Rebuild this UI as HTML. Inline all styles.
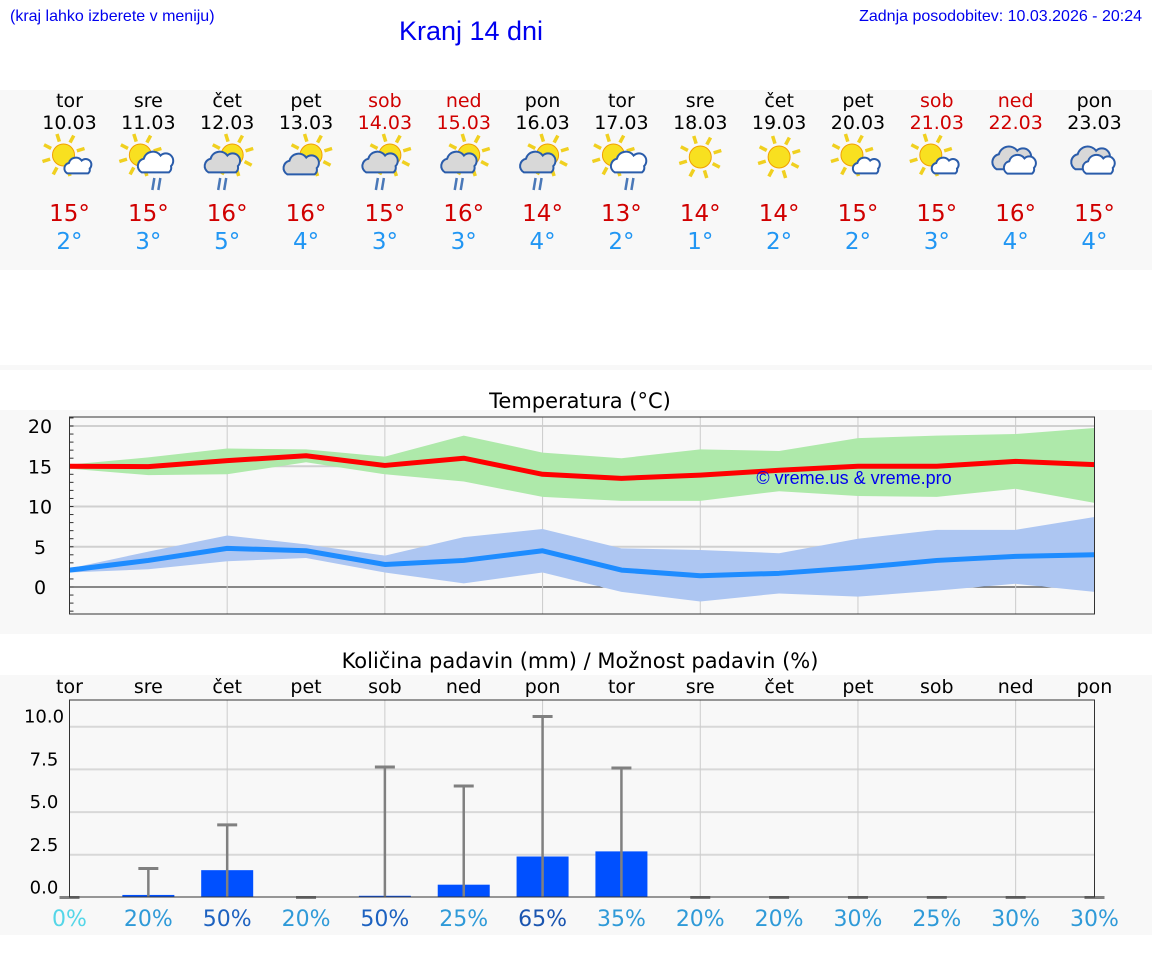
<!DOCTYPE html>
<html><head><meta charset="utf-8"><style>
html,body{margin:0;padding:0;background:#fff;width:1152px;height:975px;overflow:hidden}
svg{display:block}
text{font-family:"DejaVu Sans","Liberation Sans",sans-serif}
</style></head><body>
<svg id="root" width="1152" height="975" xmlns="http://www.w3.org/2000/svg">
<rect x="0" y="90" width="1152" height="180" fill="#f8f8f8"/>
<rect x="0" y="365" width="1152" height="5" fill="#f8f8f8"/>
<rect x="0" y="410" width="1152" height="224" fill="#f8f8f8"/>
<rect x="0" y="675" width="1152" height="260" fill="#f8f8f8"/>
<text x="10" y="21" font-size="16" fill="#0000ee" style="font-family:'Liberation Sans',sans-serif">(kraj lahko izberete v meniju)</text>
<text x="471" y="40" font-size="27" fill="#0000ee" text-anchor="middle" style="font-family:'Liberation Sans',sans-serif">Kranj 14 dni</text>
<text x="1142" y="21" font-size="16" fill="#0000ee" text-anchor="end" style="font-family:'Liberation Sans',sans-serif">Zadnja posodobitev: 10.03.2026 - 20:24</text>
<g id="days"></g>
<text x="580" y="408" font-size="21" text-anchor="middle" fill="#000">Temperatura (°C)</text>
<g id="temp"></g>
<text x="580" y="668" font-size="21" text-anchor="middle" fill="#000">Količina padavin (mm) / Možnost padavin (%)</text>
<g id="precip"></g>
</svg>
<script>
const dayNames=["tor","sre","čet","pet","sob","ned","pon","tor","sre","čet","pet","sob","ned","pon"];
const dates=["10.03","11.03","12.03","13.03","14.03","15.03","16.03","17.03","18.03","19.03","20.03","21.03","22.03","23.03"];
const weekend=[0,0,0,0,1,1,0,0,0,0,0,1,1,0];
const icons=["sc","scr","sgr","sg","sgr","sgr","sgr","scr","s","s","sc","sc","gg","gg"];
const highs=[15,15,16,16,15,16,14,13,14,14,15,15,16,15];
const lows=[2,3,5,4,3,3,4,2,1,2,2,3,4,4];
const tMax=[15.0,14.96,15.7,16.3,15.1,16.0,14.0,13.5,13.9,14.5,15.0,15.0,15.6,15.2];
const tMaxHi=[15.2,16.1,17.2,17.1,16.2,18.8,16.7,16.0,17.1,16.9,18.5,18.8,19.0,19.75];
const tMaxLo=[14.7,13.9,14.0,15.5,14.0,13.1,11.2,10.7,10.7,11.9,11.3,11.2,12.2,10.45];
const tMin=[2.1,3.3,4.8,4.5,2.8,3.3,4.5,2.1,1.4,1.7,2.4,3.3,3.8,4.0];
const tMinHi=[2.3,4.4,6.4,5.3,3.9,6.2,7.2,4.8,4.6,4.2,6.0,7.1,7.1,8.7];
const tMinLo=[1.8,2.2,3.2,3.6,1.8,0.45,1.8,-0.6,-1.8,-0.8,-1.2,-0.45,0.4,-0.6];
const tTicks=[0,5,10,15,20];
const rain=[0,0.15,1.6,0,0.1,0.75,2.4,2.7,0,0,0,0,0,0];
const rainMax=[0,1.7,4.25,0,7.64,6.53,10.6,7.58,0,0,0,0,0,0];
const chance=[0,20,50,20,50,25,65,35,20,20,30,25,30,30];
const pTicks=[0,2.5,5,7.5,10];

const NS="http://www.w3.org/2000/svg";
function el(tag,attrs,parent,txt){const e=document.createElementNS(NS,tag);for(const k in attrs)e.setAttribute(k,attrs[k]);if(txt!==undefined)e.textContent=txt;parent.appendChild(e);return e;}
const X0=69.5,X1=1094.5;
const xd=i=>X0+i*(X1-X0)/13;

const D=document.getElementById('days');
function sun(g,cx,cy,r){
  for(let k=0;k<8;k++){const a=k*Math.PI/4-0.3;el('line',{x1:cx+Math.cos(a)*(r+3),y1:cy+Math.sin(a)*(r+3),x2:cx+Math.cos(a)*(r+11),y2:cy+Math.sin(a)*(r+11),stroke:'#f0d020','stroke-width':3.5},g);}
  el('circle',{cx,cy,r,fill:'#f8e020',stroke:'#f0a000','stroke-width':1},g);
}
function cloud(g,cx,cy,s,fill){
  const p=`M${cx-14*s},${cy+8*s} a${7*s},${7*s} 0 0 1 ${2*s},${-13*s} a${9*s},${9*s} 0 0 1 ${16*s},${-3*s} a${7*s},${7*s} 0 0 1 ${10*s},${10*s} a${6*s},${6*s} 0 0 1 ${-2*s},${6*s} Z`;
  el('path',{d:p,fill,stroke:'#2a5caa','stroke-width':2},g);
}
function rainDrops(g,cx,cy){el('line',{x1:cx-2,y1:cy,x2:cx-4,y2:cy+12,stroke:'#4a78b8','stroke-width':2.5},g);el('line',{x1:cx+4,y1:cy,x2:cx+2,y2:cy+12,stroke:'#4a78b8','stroke-width':2.5},g);}
for(let i=0;i<14;i++){
  const x=xd(i);const c=weekend[i]?'#d00000':'#000';
  const g=el('g',{},D);
  
  
  el('text',{x,y:107,'font-size':19,'text-anchor':'middle',fill:c},g,dayNames[i]);
  el('text',{x,y:129,'font-size':19,'text-anchor':'middle',fill:c},g,dates[i]);
  const ig=el('g',{},g);
  
  
  const t=icons[i];
  if(t==='gg'){cloud(ig,x-3,160,1.15,'#d8d8d8');cloud(ig,x+5,166,0.95,'#fff');}
  else if(t==='s'){sun(ig,x,157,11);}
  else if(t==='sc'){sun(ig,x-6,155,11);cloud(ig,x+9,167,0.8,'#fff');}
  else if(t==='scr'){sun(ig,x-8,155,11);cloud(ig,x+8,164,1.05,'#fff');rainDrops(ig,x+8,178);}
  else if(t==='sgr'){sun(ig,x+5,155,11);cloud(ig,x-4,164,1.05,'#d8d8d8');rainDrops(ig,x-5,178);}
  else if(t==='sg'){sun(ig,x+5,155,11);cloud(ig,x-4,166,1.05,'#d8d8d8');}
  el('text',{x,y:221,'font-size':23,'text-anchor':'middle',fill:'#d00000'},g,highs[i]+'°');
  el('text',{x,y:249,'font-size':23,'text-anchor':'middle',fill:'#2196f3'},g,lows[i]+'°');
}

const T=document.getElementById('temp');
const ty=v=>587-v*8.05;
el('rect',{x:X0,y:417,width:X1-X0,height:197,fill:'#f8f8f8',stroke:'none'},T);
for(const v of tTicks){const l=el('line',{x1:X0,x2:X1,y1:ty(v),y2:ty(v),stroke:v===0?'#444':'#d0d0d0','stroke-width':v===0?1.2:2},T);
  
  el('text',{x:40,y:ty(v)+7,'font-size':19,'text-anchor':'middle',fill:'#000'},T,v);}
for(let v=-3;v<=21;v++){el('line',{x1:X0,x2:X0+4,y1:ty(v),y2:ty(v),stroke:'#333','stroke-width':1},T);}
for(let i=2;i<13;i+=2){el('line',{x1:xd(i),x2:xd(i),y1:417,y2:614,stroke:'#ccc','stroke-width':1},T);}
function band(hi,lo,fill,name){let d='M'+hi.map((v,i)=>xd(i)+','+ty(v)).join(' L')+' L'+lo.map((v,i)=>xd(i)+','+ty(v)).reverse().join(' L')+' Z';
  const p=el('path',{d,fill,stroke:'none'},T);}
function line(vals,col,name){const p=el('polyline',{points:vals.map((v,i)=>xd(i)+','+ty(v)).join(' '),fill:'none',stroke:col,'stroke-width':5,'stroke-linejoin':'round'},T);}
band(tMaxHi,tMaxLo,'#aee9aa','max-temp-range');
band(tMinHi,tMinLo,'#adc6f2','min-temp-range');
line(tMax,'#ff0000','max-temp-line');
line(tMin,'#1e8cff','min-temp-line');
el('rect',{x:X0,y:417,width:X1-X0,height:197,fill:'none',stroke:'#333','stroke-width':1},T);
const wm=el('text',{x:854,y:484,'font-size':18,'text-anchor':'middle',fill:'#0000ee',style:"font-family:'Liberation Sans',sans-serif"},T,'© vreme.us & vreme.pro');


const P=document.getElementById('precip');
const py=v=>897.5-v*17.08;
el('rect',{x:X0,y:700,width:X1-X0,height:197,fill:'#f8f8f8'},P);
for(let i=0;i<14;i++){const t=el('text',{x:xd(i),y:693,'font-size':19,'text-anchor':'middle',fill:'#000'},P,dayNames[i]);}
for(const v of pTicks){if(v>0){const l=el('line',{x1:X0,x2:X1,y1:py(v),y2:py(v),stroke:'#d8d8d8','stroke-width':2},P);}
  el('text',{x:44,y:py(v)-4,'font-size':18,'text-anchor':'middle',fill:'#000'},P,v.toFixed(1));}
for(let i=2;i<13;i+=2){el('line',{x1:xd(i),x2:xd(i),y1:700,y2:897,stroke:'#ccc','stroke-width':1},P);}
for(let i=0;i<14;i++){
  const x=xd(i);
  if(rain[i]>0){const b=el('rect',{x:x-26,y:py(rain[i]),width:52,height:897.5-py(rain[i]),fill:'#0050ff'},P);}
  if(rainMax[i]>0){const e=el('line',{x1:x,x2:x,y1:py(rainMax[i]),y2:897,stroke:'#808080','stroke-width':2.5},P);}
  el('line',{x1:x-10,x2:x+10,y1:py(rainMax[i]),y2:py(rainMax[i]),stroke:'#808080','stroke-width':3},P);
  const c=chance[i];const col=c===0?'#55d6e8':c>=65?'#1a55b0':c>=50?'#1d62c0':'#2f9ad8';
  const t=el('text',{x,y:926,'font-size':22,'text-anchor':'middle',fill:col},P,c+'%');
}
el('rect',{x:X0,y:700,width:X1-X0,height:197,fill:'none',stroke:'#333','stroke-width':1},P);
</script>
</body></html>
